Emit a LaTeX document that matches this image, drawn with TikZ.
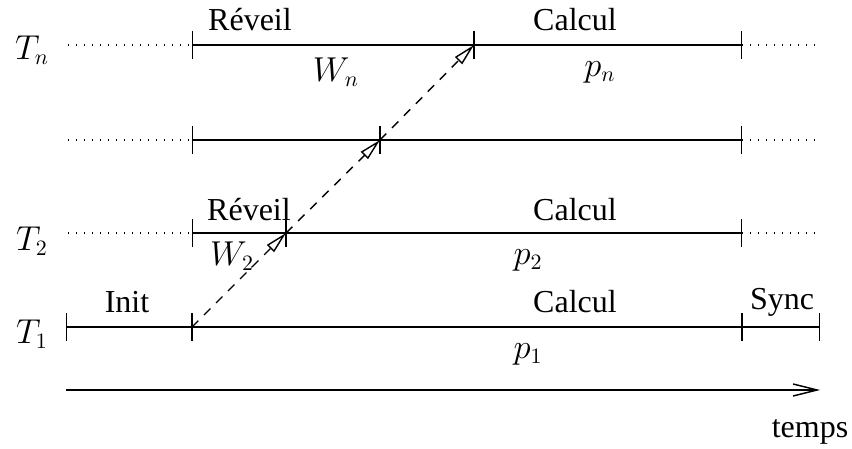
\documentclass[tikz,border=0pt]{standalone}
\usepackage{fontspec}
\setmainfont{Liberation Serif}
\usetikzlibrary{arrows.meta}

\begin{document}
\begin{tikzpicture}[x=0.5pt,y=-0.5pt,line width=0.7pt,
    every node/.style={font=\fontsize{16}{19}\selectfont},
    seg/.style={{Bar[width=14pt]}-{Bar[width=14pt]}},
    dotline/.style={dash pattern=on 0.7pt off 3.3pt},
    waitarrow/.style={dash pattern=on 4.5pt off 4pt,-{Triangle[open,length=11pt,width=5pt]}},
    timearrow/.style={-{Straight Barb[length=12pt,width=6pt]}}]
    \useasboundingbox (0,0) rectangle (852,449);

    % row T_n
    \coordinate (nl) at (68,45);
    \coordinate (n0) at (192,45);
    \coordinate (n1) at (474,45);
    \coordinate (n2) at (742,45);
    \coordinate (nr) at (820,45);
    % middle row
    \coordinate (ml) at (68,140);
    \coordinate (m0) at (192,140);
    \coordinate (m1) at (380,140);
    \coordinate (m2) at (742,140);
    \coordinate (mr) at (820,140);
    % row T_2
    \coordinate (bl) at (68,233);
    \coordinate (b0) at (192,233);
    \coordinate (b1) at (286,233);
    \coordinate (b2) at (742,233);
    \coordinate (br) at (820,233);
    % row T_1
    \coordinate (a0) at (66,327);
    \coordinate (a1) at (192,327);
    \coordinate (a2) at (742,327);
    \coordinate (a3) at (820,327);
    % time axis
    \coordinate (ta) at (66,390);
    \coordinate (tb) at (820,390);

    \draw[dotline] (nl) -- (n0);
    \draw[seg] (n0) -- (n1);
    \draw[seg] (n1) -- (n2);
    \draw[dotline] (n2) -- (nr);

    \draw[dotline] (ml) -- (m0);
    \draw[seg] (m0) -- (m1);
    \draw[seg] (m1) -- (m2);
    \draw[dotline] (m2) -- (mr);

    \draw[dotline] (bl) -- (b0);
    \draw[seg] (b0) -- (b1);
    \draw[seg] (b1) -- (b2);
    \draw[dotline] (b2) -- (br);

    \draw[seg] (a0) -- (a1);
    \draw[seg] (a1) -- (a2);
    \draw[seg] (a2) -- (a3);

    \draw[waitarrow] (a1) -- (b1);
    \draw[waitarrow] (b1) -- (m1);
    \draw[waitarrow] (m1) -- (n1);

    \draw[timearrow] (ta) -- (tb);

    % labels
    \node (tn) at (32,50) {$T_n$};
    \node (t2) at (32,241) {$T_2$};
    \node (t1) at (32,334) {$T_1$};

    \node (revn) at (250,20) {Réveil};
    \node (caln) at (575,20) {Calcul};
    \node (wn) at (336,72) {$W_n$};
    \node (pn) at (600,72) {$p_n$};

    \node (rev2) at (249,210) {Réveil};
    \node (cal2) at (575,210) {Calcul};
    \node (w2) at (232,256) {$W_2$};
    \node (p2) at (528,260) {$p_2$};

    \node (init) at (127,302) {Init};
    \node (cal1) at (575,302) {Calcul};
    \node (sync) at (782,302) {Sync};
    \node (p1) at (528,354) {$p_1$};

    \node (temps) at (810,432) {temps};
\end{tikzpicture}
\end{document}
